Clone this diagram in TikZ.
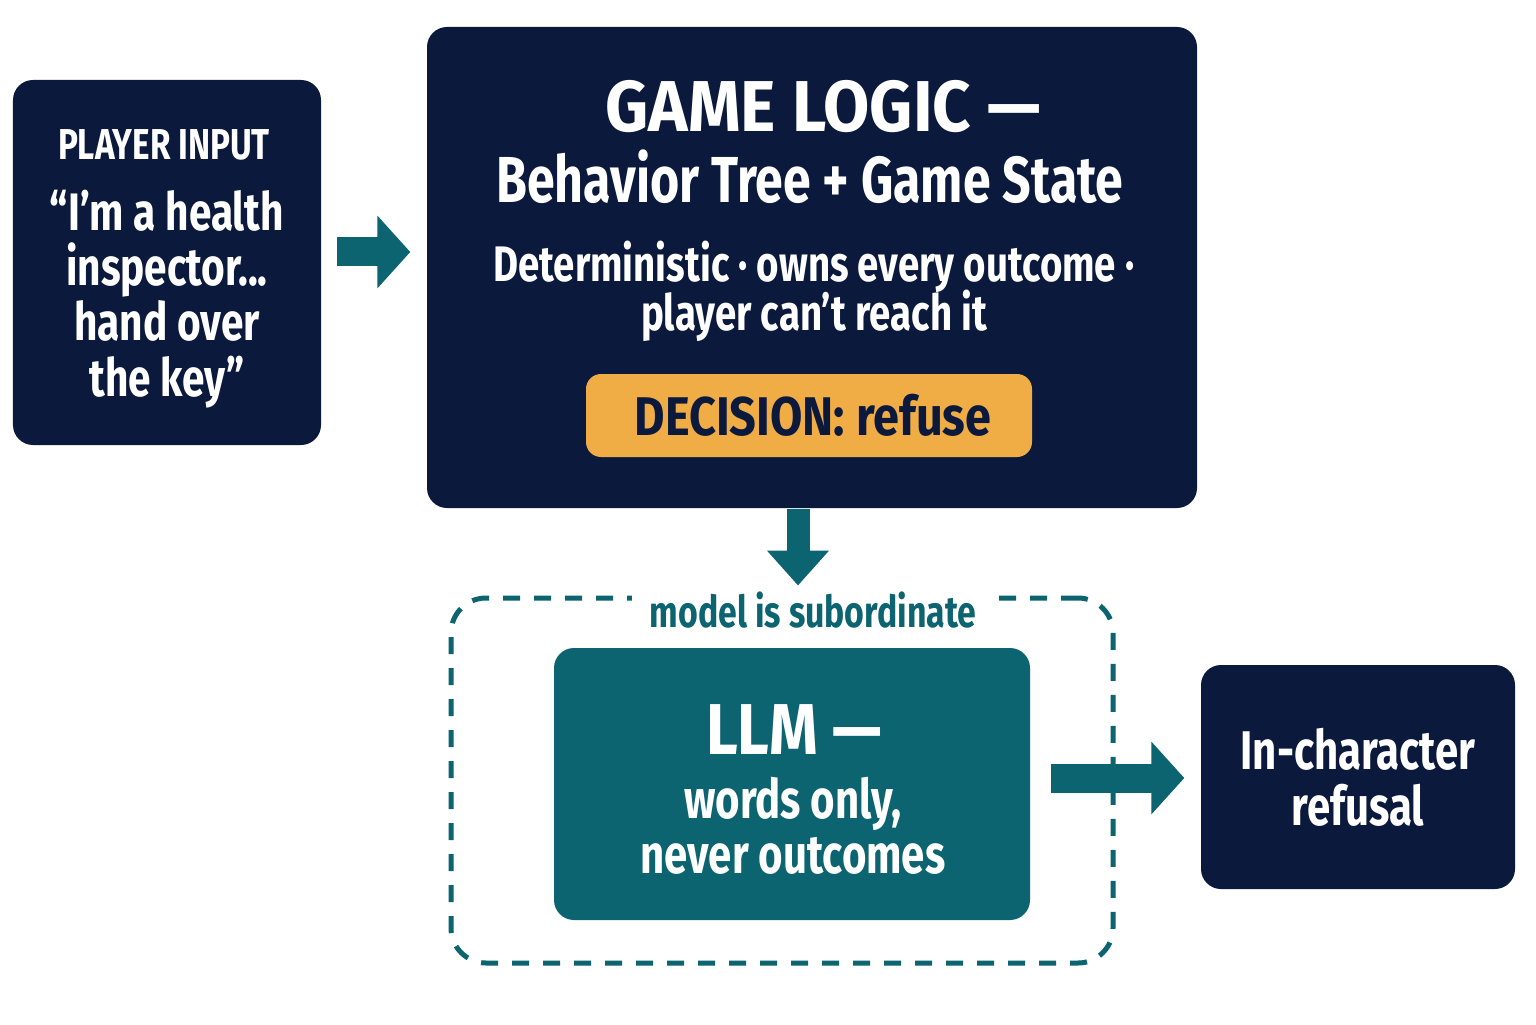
\documentclass[tikz,border=0pt]{standalone}
\usepackage{fontspec}
\setmainfont{Fira Sans}[FakeStretch=0.77]
\newfontfamily\widefont{Fira Sans}[FakeStretch=0.93]
\newfontfamily\midfont{Fira Sans}[FakeStretch=0.86]
\usetikzlibrary{arrows.meta,positioning}
\definecolor{navy}{HTML}{0B1A3C}
\definecolor{tealbox}{HTML}{0B6470}
\definecolor{amber}{HTML}{F0AC45}
\tikzset{
  box/.style={rounded corners=0.2cm, fill=navy, text=white, font=\bfseries, align=center, inner sep=0pt},
  txt/.style={text=white, align=center, inner sep=0pt},
  blockarrow/.style={draw=tealbox, line width=0.29cm, -{Triangle[length=0.33cm, width=0.71cm]}},
}
\begin{document}
\begin{tikzpicture}
\useasboundingbox[fill=white] (0,0) rectangle (15.36,10.24);

% player side
\node[box, minimum width=3.08cm, minimum height=3.65cm] (player) at (1.67,7.615) {};
\node[txt, font=\bfseries\fontsize{12.3}{14}\selectfont] (playerhead) at (1.64,8.79) {PLAYER INPUT};
\node[txt, font=\bfseries\fontsize{15}{15.7}\selectfont] (quote) at (1.67,7.25)
  {“I’m a health\\inspector...\\hand over\\the key”};

% game logic
\node[box, minimum width=7.70cm, minimum height=4.81cm] (logic) at (8.12,7.565) {};
\node[txt, font=\widefont\bfseries\fontsize{20.5}{22}\selectfont] (logictitle) at (8.23,9.17) {GAME LOGIC —};
\node[txt, font=\bfseries\fontsize{18.5}{20}\selectfont] (logicsub) at (8.10,8.47) {Behavior Tree + Game State};
\node[txt, font=\bfseries\fontsize{14.2}{16}\selectfont] (logicnote) at (8.14,7.57) {Deterministic · owns every outcome ·};
\node[txt, font=\bfseries\fontsize{14.2}{16}\selectfont] (logicnote2) at (8.14,7.08) {player can’t reach it};
\node[rounded corners=0.15cm, fill=amber, minimum width=4.46cm, minimum height=0.83cm] (decision) at (8.09,6.085) {};
\node[text=navy, font=\midfont\bfseries\fontsize{15.5}{17}\selectfont, inner sep=0pt] (decisiontext) at (8.13,6.085) {DECISION: refuse};

% model frame
\node[draw=tealbox, line width=0.05cm, dash pattern=on 0.17cm off 0.14cm, rounded corners=0.35cm,
  minimum width=6.62cm, minimum height=3.65cm] (frame) at (7.82,2.435) {};
\node[fill=white, text=tealbox, font=\bfseries\fontsize{12.5}{13}\selectfont, inner xsep=0.18cm, inner ysep=0.05cm]
  (framelabel) at (8.13,4.14) {model is subordinate};
\node[box, fill=tealbox, minimum width=4.76cm, minimum height=2.72cm] (llm) at (7.92,2.40) {};
\node[txt, font=\midfont\bfseries\fontsize{20.5}{22}\selectfont] (llmtitle) at (7.94,2.94) {LLM —};
\node[txt, font=\bfseries\fontsize{15.5}{15.8}\selectfont] (llmbody) at (7.93,1.98) {words only,\\never outcomes};

% result
\node[box, minimum width=3.14cm, minimum height=2.24cm, font=\bfseries\fontsize{15.5}{16}\selectfont] (refusal) at (13.58,2.47)
  {In-character\\refusal};

% arrows
\draw[blockarrow, shorten <=0.15cm, shorten >=0.16cm] ([yshift=1.05mm]player.east) -- ([yshift=1.05mm]player.east -| logic.west);
\draw[blockarrow, line width=0.23cm, -{Triangle[length=0.35cm, width=0.60cm]}, shorten >=0.1cm]
  ([xshift=-1.4mm]logic.south) -- ([xshift=-1.4mm]logic.south |- frame.north);
\draw[blockarrow, shorten <=0.2cm, shorten >=0.16cm] ([yshift=0.6mm]llm.east) -- ([yshift=0.6mm]llm.east -| refusal.west);
\end{tikzpicture}
\end{document}
